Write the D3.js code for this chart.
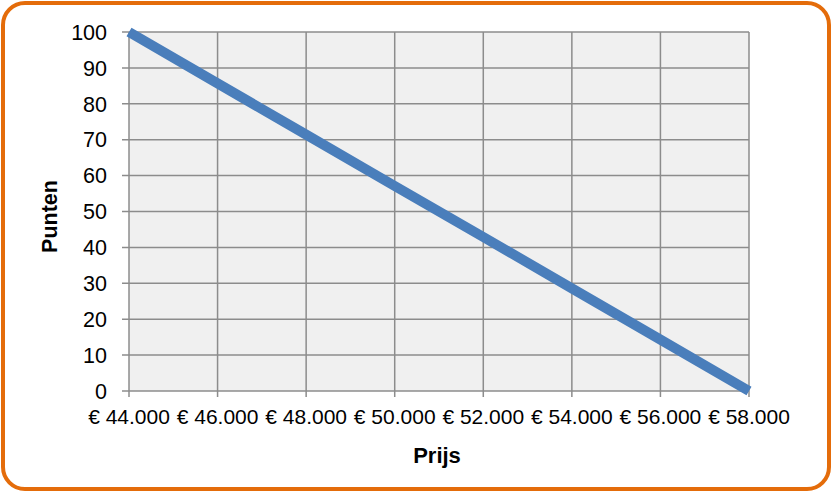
<!DOCTYPE html>
<html><head><meta charset="utf-8">
<script src="https://cdn.jsdelivr.net/npm/d3@7"></script>
<style>body{margin:0;background:#fff}svg{display:block}</style>
</head><body>
<script>
const prices = [44000, 46000, 48000, 50000, 52000, 54000, 56000, 58000];
const points = [100, 85.7, 71.4, 57.1, 42.9, 28.6, 14.3, 0];
const yTicks = [0, 10, 20, 30, 40, 50, 60, 70, 80, 90, 100];
const xTitle = "Prijs";
const yTitle = "Punten";

const W = 832, H = 492;
const m = {left: 129, right: 83, top: 32, bottom: 101};
const FONT = "Liberation Sans, Arial, sans-serif";
const svg = d3.select("body").append("svg").attr("width", W).attr("height", H);

svg.append("rect").attr("x", 3).attr("y", 3).attr("width", W - 6).attr("height", H - 6)
  .attr("rx", 22).attr("fill", "#fff").attr("stroke", "#e46c0a").attr("stroke-width", 4);

const x = d3.scaleLinear().domain([44000, 58000]).range([m.left, W - m.right]);
const y = d3.scaleLinear().domain([0, 100]).range([H - m.bottom, m.top]);

svg.append("rect").attr("x", m.left).attr("y", m.top)
  .attr("width", x.range()[1] - m.left).attr("height", y.range()[0] - m.top).attr("fill", "#f0f0f0");

const fmt = v => "€ " + d3.format(",")(v).replace(/,/g, ".");

const g = svg.append("g");
g.selectAll("line.h").data(yTicks).join("line")
  .attr("x1", m.left - 7).attr("x2", x.range()[1])
  .attr("y1", d => y(d)).attr("y2", d => y(d))
  .attr("stroke", "#8c8c8c").attr("stroke-width", 1.5);
g.selectAll("line.v").data(prices).join("line")
  .attr("x1", d => x(d)).attr("x2", d => x(d))
  .attr("y1", m.top).attr("y2", y(0) + 6)
  .attr("stroke", "#8c8c8c").attr("stroke-width", 1.5);

g.selectAll("text.yl").data(yTicks).join("text")
  .attr("x", 107).attr("y", d => y(d)).attr("dy", "0.36em")
  .attr("text-anchor", "end").attr("font-family", FONT)
  .attr("font-size", 21.5).attr("fill", "#000").text(d => d);

g.selectAll("text.xl").data(prices).join("text")
  .attr("x", d => x(d)).attr("y", 424)
  .attr("text-anchor", "middle").attr("font-family", FONT)
  .attr("font-size", 21).attr("fill", "#000").text(d => fmt(d));

svg.append("path").datum(prices.map((p, i) => [p, points[i]]))
  .attr("d", d3.line().x(d => x(d[0])).y(d => y(d[1])))
  .attr("fill", "none").attr("stroke", "#4a7ebb").attr("stroke-width", 10);

svg.append("text").attr("x", 437).attr("y", 463)
  .attr("text-anchor", "middle").attr("font-family", FONT)
  .attr("font-size", 22).attr("font-weight", "bold").text(xTitle);

svg.append("text").attr("transform", `translate(57,216.5) rotate(-90)`)
  .attr("text-anchor", "middle").attr("font-family", FONT)
  .attr("font-size", 21.5).attr("font-weight", "bold").text(yTitle);
</script>
</body></html>
